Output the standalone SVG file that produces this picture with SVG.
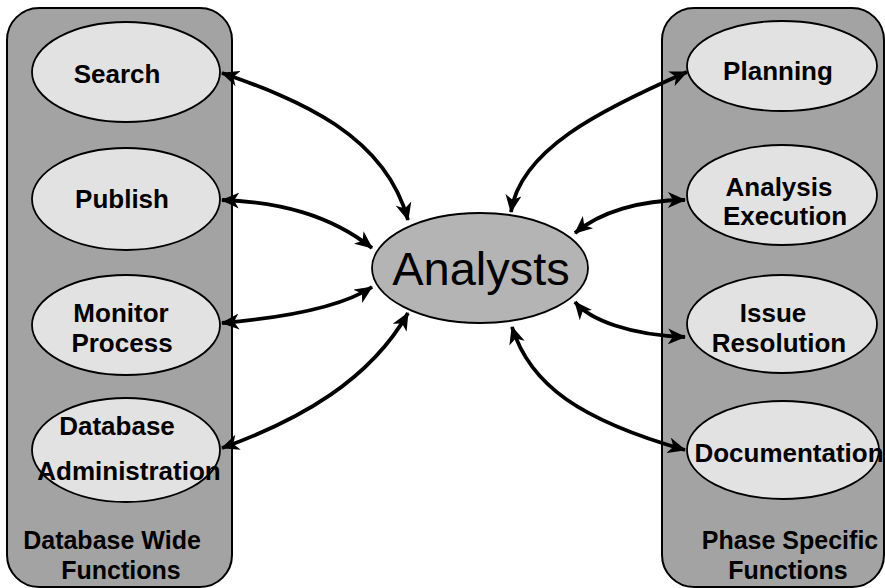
<svg xmlns="http://www.w3.org/2000/svg" width="885" height="588" viewBox="0 0 885 588">
<style>
.panel{fill:#a3a3a3;stroke:#000;stroke-width:2}
.node{fill:#e2e2e2;stroke:#000;stroke-width:1.8}
.hub{fill:#b4b4b4;stroke:#000;stroke-width:1.8}
.t{font-family:"Liberation Sans",Arial,sans-serif;font-weight:bold;font-size:26px;fill:#000;text-anchor:middle}
.pl{font-family:"Liberation Sans",Arial,sans-serif;font-weight:bold;font-size:25px;fill:#000;text-anchor:middle}
.c{fill:none;stroke:#000;stroke-width:3.8;marker-start:url(#ah);marker-end:url(#ah)}
</style>
<defs>
<marker id="ah" viewBox="0 0 18 16" refX="17" refY="8" markerWidth="18" markerHeight="16" markerUnits="userSpaceOnUse" orient="auto-start-reverse">
<path d="M0,0 L18,8 L0,16 L5,8 Z" fill="#000"/>
</marker>
</defs>
<rect width="885" height="588" fill="#fff"/>
<g id="panel-left">
<rect class="panel" x="7" y="8" width="225" height="579" rx="32"/>
<text class="pl" x="112" y="549">Database Wide</text>
<text class="pl" x="121" y="579">Functions</text>
</g>
<g id="panel-right">
<rect class="panel" x="662" y="8" width="222" height="579" rx="32"/>
<text class="pl" x="790" y="549">Phase Specific</text>
<text class="pl" x="788" y="579">Functions</text>
</g>
<g id="search">
<ellipse class="node" cx="126" cy="72" rx="94" ry="50"/>
<text class="t" x="117" y="83">Search</text>
</g>
<g id="publish">
<ellipse class="node" cx="126" cy="199" rx="94" ry="51"/>
<text class="t" x="122" y="208">Publish</text>
</g>
<g id="monitor">
<ellipse class="node" cx="126" cy="325" rx="94" ry="50"/>
<text class="t" x="121" y="322">Monitor</text>
<text class="t" x="122" y="352">Process</text>
</g>
<g id="dbadmin">
<ellipse class="node" cx="126" cy="450" rx="94" ry="52"/>
<text class="t" x="117" y="435">Database</text>
<text class="t" x="129" y="480">Administration</text>
</g>
<g id="planning">
<ellipse class="node" cx="782" cy="66" rx="95" ry="45"/>
<text class="t" x="778" y="80">Planning</text>
</g>
<g id="analysis">
<ellipse class="node" cx="782" cy="195" rx="95" ry="50"/>
<text class="t" x="779" y="196">Analysis</text>
<text class="t" x="785" y="225">Execution</text>
</g>
<g id="issue">
<ellipse class="node" cx="782" cy="324" rx="95" ry="49"/>
<text class="t" x="773" y="322">Issue</text>
<text class="t" x="779" y="352">Resolution</text>
</g>
<g id="documentation">
<ellipse class="node" cx="783" cy="450" rx="96" ry="49"/>
<text class="t" x="789" y="462">Documentation</text>
</g>
<g id="analysts">
<ellipse class="hub" cx="480" cy="268" rx="108" ry="55"/>
<text x="481" y="285" font-family="'Liberation Sans',Arial,sans-serif" font-size="47" text-anchor="middle" fill="#000">Analysts</text>
</g>
<g id="connectors">
<path class="c" d="M222,73 C300,100 385,135 408,220"/>
<path class="c" d="M222,200 C280,202 330,215 372,248"/>
<path class="c" d="M222,323 C280,318 340,308 372,287"/>
<path class="c" d="M222,448 C300,420 370,380 408,313"/>
<path class="c" d="M687,72 C600,110 520,150 511,212"/>
<path class="c" d="M575,233 C600,212 640,200 685,200"/>
<path class="c" d="M575,302 C590,320 630,335 685,337"/>
<path class="c" d="M512,327 C530,385 580,420 685,450"/>
</g>
</svg>
